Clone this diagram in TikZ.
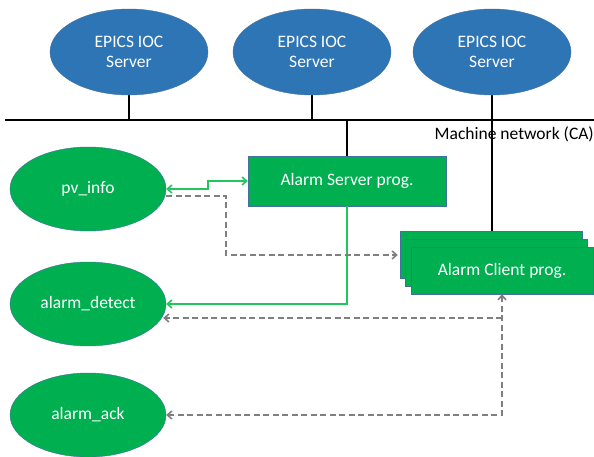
\documentclass[tikz,border=0pt]{standalone}
\usepackage{fontspec}
\setmainfont{Carlito}
\usetikzlibrary{shapes.geometric,shadows,arrows.meta,backgrounds}
\definecolor{iocblue}{HTML}{2E75B6}
\definecolor{iocedge}{HTML}{41719C}
\definecolor{progreen}{HTML}{00B050}
\definecolor{linkgreen}{HTML}{22C55E}
\definecolor{linkgray}{HTML}{7F7F7F}
\tikzset{
  ioc/.style={ellipse,draw=iocedge,fill=iocblue,text=white,minimum width=158pt,minimum height=86pt,inner sep=0pt,align=center},
  task/.style={ellipse,draw=iocedge,fill=progreen,text=white,minimum width=156pt,minimum height=84pt,inner sep=0pt},
  prog/.style={rectangle,draw=iocedge,fill=progreen,text=white,inner sep=0pt},
  glink/.style={draw=linkgreen,line width=1.6pt,-{Straight Barb[length=4.5pt,width=8pt]}},
  dlink/.style={draw=linkgray,line width=1.6pt,dash pattern=on 6pt off 3.5pt,-{Straight Barb[length=4.5pt,width=8pt]}}
}

\begin{document}
\begin{tikzpicture}[x=1pt,y=-1pt,font=\fontsize{17.5}{20}\selectfont]
  \useasboundingbox (0,0) rectangle (594,457);
  \node[ioc] (ioc1) at (129,52) {EPICS IOC\\Server};
  \node[ioc] (ioc2) at (312,52) {EPICS IOC\\Server};
  \node[ioc] (ioc3) at (492,52) {EPICS IOC\\Server};
  \coordinate (busL) at (5,120);
  \coordinate (busR) at (594,120);
  \node[anchor=east,inner sep=0pt] (net) at (594,134) {Machine network (CA)};
  \node[prog,minimum width=198pt,minimum height=50pt] (server) at (347,181) {Alarm Server prog.};
  \node[prog,minimum width=182pt,minimum height=47pt,
        double copy shadow={shadow xshift=-5.5pt,shadow yshift=8pt,draw=iocedge,fill=progreen}]
        (client) at (502,270.5) {Alarm Client prog.};
  \node[task] (pv) at (88,189) {pv\_info};
  \node[task] (detect) at (88,304) {alarm\_detect};
  \node[task] (ack) at (88,415) {alarm\_ack};
  % network
  \begin{scope}[on background layer]
    \fill[white] (0,0) rectangle (594,457);
    \draw[line width=1.8pt] (busL) -- (busR);
    \draw[line width=1.8pt] (ioc1.south) -- (ioc1 |- busL);
    \draw[line width=1.8pt] (ioc2.south) -- (ioc2 |- busL);
    \draw[line width=1.8pt] (ioc3.south) -- (ioc3 |- busL);
    \draw[line width=1.8pt] (server.north) -- (server |- busL);
    \draw[line width=1.8pt] (ioc3 |- busL) -- (ioc3 |- client.center);
  \end{scope}
  % links
  \draw[glink,{Straight Barb[length=4.5pt,width=8pt]}-{Straight Barb[length=4.5pt,width=8pt]}]
    (pv.east) -- ++(42,0) |- (server.west);
  \draw[glink] (server.south) |- (detect.east);
  \coordinate (bend) at ([xshift=-13pt,yshift=15.5pt]client.west);
  \draw[dlink] ([yshift=-7pt]pv.east) -- ++(60,0) |- (bend);
  \draw[dlink,{Straight Barb[length=4.5pt,width=8pt]}-{Straight Barb[length=4.5pt,width=8pt]}]
    (ack.east) -| (client.south);
  \coordinate (tap) at ([yshift=-14pt]detect.east -| client.south);
  \draw[dlink] (tap) -- ([yshift=-14pt,xshift=-3pt]detect.east);
\end{tikzpicture}
\end{document}
